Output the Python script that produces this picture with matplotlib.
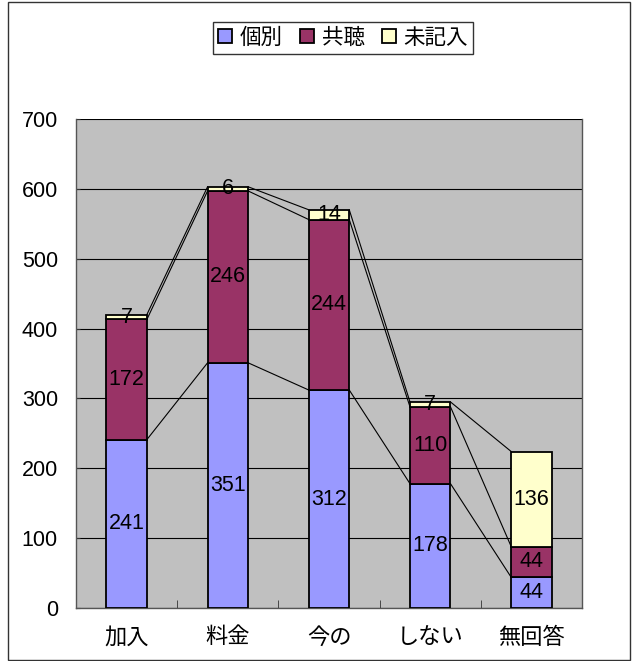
import numpy as np
import matplotlib.pyplot as plt
from matplotlib.patches import Rectangle

plt.rcParams['font.family'] = ['Liberation Sans', 'Noto Sans CJK JP']

categories = ['加入', '料金', '今の', 'しない', '無回答']
kobetsu = [241, 351, 312, 178, 44]
kyocho = [172, 246, 244, 110, 44]
mikinyu = [7, 6, 14, 7, 136]
series_names = ['個別', '共聴', '未記入']
colors = ['#9999FF', '#993366', '#FFFFCC']

fig = plt.figure(figsize=(6.32, 6.61), dpi=100)
ax = fig.add_axes([0.1203, 0.0802, 0.8006, 0.7398])
ax.set_facecolor('#C0C0C0')

x = np.arange(len(categories))
w = 0.4
series = [kobetsu, kyocho, mikinyu]
bottom = np.zeros(len(categories))
handles = []
for name, vals, c in zip(series_names, series, colors):
    vals = np.array(vals)
    bars = ax.bar(x, vals, w, bottom=bottom, color=c, edgecolor='black',
                  linewidth=1.3, label=name, zorder=3)
    ax.bar_label(bars, labels=[str(v) for v in vals], label_type='center',
                 fontsize=15.5, zorder=4)
    bottom = bottom + vals
    # series lines between bars (Excel style)
    for i in range(len(categories) - 1):
        ax.plot([x[i] + w / 2, x[i + 1] - w / 2], [bottom[i], bottom[i + 1]],
                color='black', lw=0.8, zorder=2)
    handles.append(bars)

ax.set_xlim(-0.5, len(categories) - 0.5)
ax.set_ylim(0, 700)
ax.set_yticks(range(0, 701, 100))
ax.yaxis.grid(True, color='black', lw=0.8, zorder=1)
ax.set_axisbelow(True)
ax.set_xticks(x)
ax.set_xticklabels(categories, fontsize=16)
ax.set_xticks(np.arange(-0.5, len(categories), 1), minor=True)
ax.tick_params(axis='x', which='major', length=0, pad=14)
ax.tick_params(axis='x', which='minor', direction='in', length=6, color='#333333')
ax.tick_params(axis='y', direction='in', length=3, labelsize=15.5, pad=13, color='#333333')
ax.spines['top'].set_visible(False)
for s in ['left', 'bottom', 'right']:
    ax.spines[s].set_color('#555555')
    ax.spines[s].set_linewidth(1.0)

leg = fig.legend(handles=handles, labels=series_names, loc='center',
                 bbox_to_anchor=(0.543, 0.9425), ncol=3, fontsize=15.5,
                 frameon=True, fancybox=False, edgecolor='black',
                 handlelength=0.65, handleheight=0.65, handletextpad=0.35,
                 columnspacing=0.8, borderpad=0.25, borderaxespad=0)
leg.get_frame().set_linewidth(1.0)

fig.patches.append(Rectangle((0.013, 0.002), 0.984, 0.995, transform=fig.transFigure,
                             fill=False, edgecolor='#333333', lw=1.0))

fig.savefig('out.png', dpi=100)
